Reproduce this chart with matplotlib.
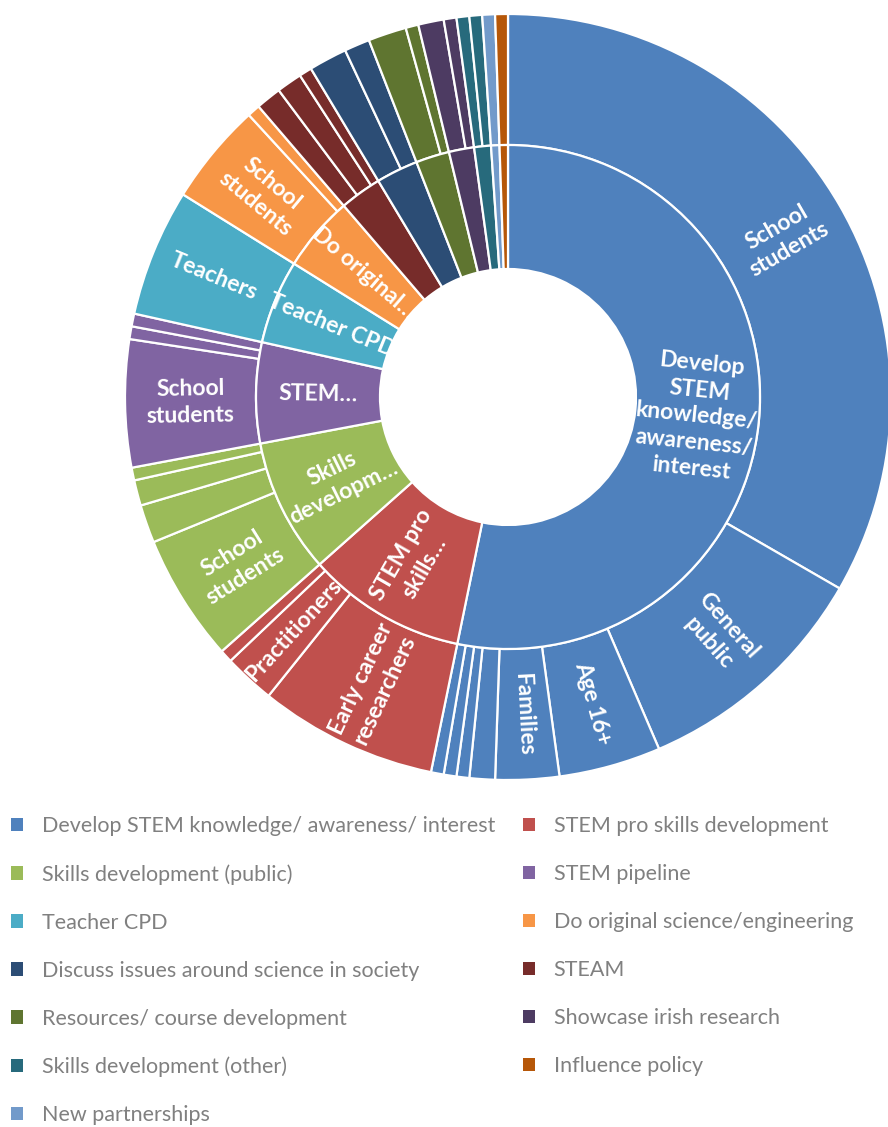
import matplotlib.pyplot as plt
import numpy as np

plt.rcParams['font.family'] = ['Lato', 'DejaVu Sans']

# aims, in the order they sit on the ring (clockwise from 12 o'clock)
aims = [
    "Develop STEM knowledge/ awareness/ interest",
    "STEM pro skills development",
    "Skills development (public)",
    "STEM pipeline",
    "Teacher CPD",
    "Do original science/engineering",
    "STEAM",
    "Discuss issues around science in society",
    "Resources/ course development",
    "Showcase irish research",
    "Skills development (other)",
    "New partnerships",
    "Influence policy",
]
aim_colors = [
    "#4F81BD", "#C0504D", "#9BBB59", "#8064A2", "#4BACC6", "#F79646",
    "#772C2A", "#2C4D75", "#5F7530", "#4D3B62", "#276A7C", "#729ACA", "#B65708",
]
# short labels written inside the inner ring
aim_short = [
    "Develop\nSTEM\nknowledge/\nawareness/\ninterest",
    "STEM pro\nskills…",
    "Skills\ndevelopm…",
    "STEM…",
    "Teacher CPD",
    "Do original…",
    "", "", "", "", "", "", "",
]

# audiences per aim (number of projects)
audience_counts = [
    [62, 19, 8, 5, 2, 1, 1, 1],
    [14, 4, 1],
    [10, 3, 2, 1],
    [10, 1, 1],
    [10],
    [8, 1],
    [2, 2, 1],
    [3, 2],
    [3, 1],
    [2, 1],
    [1, 1],
    [1],
    [1],
]
audience_labels = [
    ["School\nstudents", "General\npublic", "Age 16+", "Families", "", "", "", ""],
    ["Early career\nresearchers", "Practitioners", ""],
    ["School\nstudents", "", "", ""],
    ["School\nstudents", "", ""],
    ["Teachers"],
    ["School\nstudents", ""],
    ["", "", ""],
    ["", ""],
    ["", ""],
    ["", ""],
    ["", ""],
    [""],
    [""],
]

# legend follows the original series order
legend_order = [
    "Develop STEM knowledge/ awareness/ interest",
    "STEM pro skills development",
    "Skills development (public)",
    "STEM pipeline",
    "Teacher CPD",
    "Do original science/engineering",
    "Discuss issues around science in society",
    "STEAM",
    "Resources/ course development",
    "Showcase irish research",
    "Skills development (other)",
    "Influence policy",
    "New partnerships",
]

aim_counts = [sum(c) for c in audience_counts]
outer_counts = [v for c in audience_counts for v in c]
outer_labels = [l for ls in audience_labels for l in ls]
outer_colors = [aim_colors[i] for i, c in enumerate(audience_counts) for _ in c]

R_OUT, R_MID, R_IN = 1.0, 252 / 383, 128 / 383

fig = plt.figure(figsize=(8.88, 11.27), dpi=100)
ax = fig.add_axes([125 / 888, 347 / 1127, 766 / 888, 766 / 1127])

edge = dict(edgecolor="white", linewidth=1.6)
outer, _ = ax.pie(outer_counts, radius=R_OUT, colors=outer_colors, startangle=90,
                  counterclock=False, wedgeprops=dict(width=R_OUT - R_MID, **edge))
inner, _ = ax.pie(aim_counts, radius=R_MID, colors=aim_colors, startangle=90,
                  counterclock=False, wedgeprops=dict(width=R_MID - R_IN, **edge))
ax.set_xlim(-1, 1)
ax.set_ylim(-1, 1)
ax.set_aspect("equal")


def ring_labels(values, labels, r):
    total = float(sum(values))
    start = 0.0
    for v, lab in zip(values, labels):
        mid = (start + v / 2) / total * 360
        start += v
        if not lab:
            continue
        theta = 90 - mid
        theta = (theta + 180) % 360 - 180
        rot = theta
        if rot > 90:
            rot -= 180
        elif rot < -90:
            rot += 180
        t = np.deg2rad(theta)
        ax.text(r * np.cos(t), r * np.sin(t), lab, ha="center", va="center",
                rotation=rot, rotation_mode="anchor", color="white",
                fontsize=16.5, fontweight="bold", linespacing=1.3)


ring_labels(outer_counts, outer_labels, (R_OUT + R_MID) / 2)
ring_labels(aim_counts, aim_short, (R_MID + R_IN) / 2)

# legend in row-major order over two columns
idx = [aims.index(n) for n in legend_order]
col_major = idx[0::2] + idx[1::2]
leg = fig.legend([inner[i] for i in col_major], [aims[i] for i in col_major],
                 loc="upper left", bbox_to_anchor=(11 / 888, 1 - 816 / 1127),
                 ncol=2, frameon=False, fontsize=15.5, handlelength=0.56,
                 handleheight=0.6, handletextpad=0.86, labelspacing=1.3,
                 columnspacing=1.3, borderpad=0, borderaxespad=0)
for t in leg.get_texts():
    t.set_color("#808080")
for h in leg.legend_handles:
    h.set_edgecolor("none")

fig.savefig("out.png", dpi=100)
